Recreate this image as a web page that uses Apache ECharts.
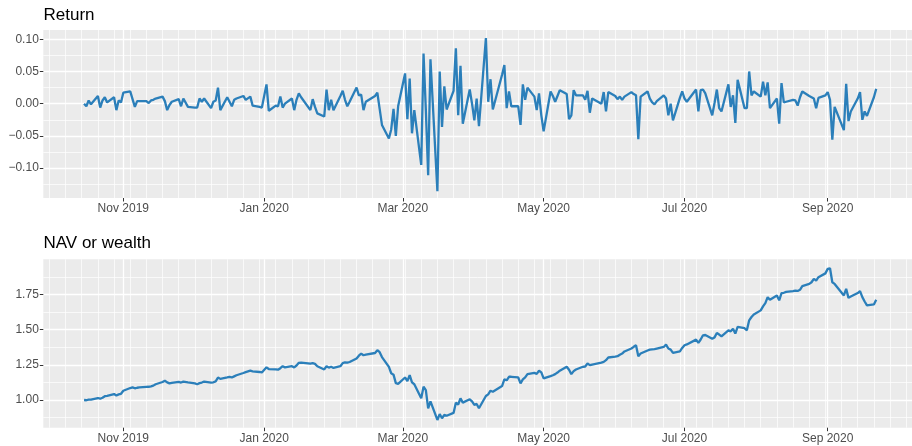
<!DOCTYPE html>
<html><head><meta charset="utf-8">
<script src="https://cdn.jsdelivr.net/npm/echarts@6/dist/echarts.min.js"></script>
<style>html,body{margin:0;padding:0;background:#fff}#c{width:912px;height:446px}</style>
</head><body><div id="c"></div>
<script>
// ---- data ----
const startDate = '2019-10-15';
const endDate = '2020-09-22';
const holidays = ['2019-11-28','2019-12-25','2020-01-01','2020-01-20','2020-02-17','2020-04-10','2020-05-25','2020-07-03','2020-09-07'];

const returns = [
  // Oct 2019
  0.000,-0.004,0.005,-0.001,0.012,-0.006,0.005,0.010,0.002,0.010,-0.010,0.005,0.002,
  // Nov
  0.017,0.019,0.007,-0.005,0.004,0.004,0.004,0.001,0.005,0.006,0.008,0.011,0.004,-0.010,-0.002,0.003,0.007,-0.004,0.008,-0.005,
  // Dec
  -0.006,-0.006,0.008,0.003,0.008,-0.007,0.003,0.005,0.025,-0.010,0.010,0.003,-0.004,0.006,0.008,0.012,0.006,0.011,-0.003,-0.005,-0.006,
  // Jan 2020
  0.030,-0.011,-0.003,-0.004,0.011,-0.006,0.000,0.008,-0.010,0.006,0.016,0.010,-0.010,0.007,-0.005,-0.015,-0.020,0.022,-0.010,0.006,-0.010,
  // Feb
  0.012,0.020,0.006,-0.004,0.003,0.025,0.013,0.014,-0.010,0.003,0.012,0.017,-0.008,-0.033,-0.054,-0.040,-0.008,-0.050,-0.004,
  // Mar
  0.047,-0.024,0.039,-0.046,-0.010,-0.095,0.078,-0.010,-0.111,0.069,-0.136,0.050,-0.036,0.027,-0.009,0.020,0.086,-0.018,0.059,-0.031,0.022,0.000,
  // Apr
  -0.026,0.008,-0.035,0.102,0.003,0.038,-0.009,0.045,0.060,-0.007,0.019,-0.004,-0.004,-0.033,0.030,0.006,0.025,0.011,-0.010,0.016,-0.018,
  // May
  -0.043,0.019,0.012,0.003,0.012,0.021,0.015,-0.024,-0.018,0.021,0.013,0.013,0.006,0.020,-0.014,0.008,0.000,0.018,-0.012,0.018,
  // Jun
  0.012,0.007,0.011,0.006,0.011,0.018,0.015,0.013,-0.055,0.011,0.019,0.008,0.002,-0.001,0.004,0.013,0.008,-0.018,0.000,-0.026,0.009,0.019,
  // Jul
  0.008,0.003,0.022,-0.012,0.021,0.022,0.016,-0.018,0.001,0.022,-0.007,-0.012,0.030,-0.005,0.013,-0.030,0.037,-0.007,-0.007,0.050,0.013,0.019,
  // Aug
  0.011,0.034,0.013,0.033,-0.007,0.008,-0.031,0.032,0.002,0.003,0.006,0.005,-0.003,0.010,0.019,0.012,0.010,0.008,-0.007,0.009,0.013,
  // Sep
  0.018,0.006,-0.056,-0.005,-0.041,0.031,-0.027,-0.012,0.008,0.018,-0.025,-0.012,-0.019,0.010,0.023
];

const nav = [
  // Oct 2019
  1.000,0.998,1.003,1.002,1.014,1.009,1.016,1.027,1.030,1.042,1.032,1.040,1.044,
  // Nov
  1.066,1.085,1.090,1.083,1.087,1.090,1.093,1.094,1.097,1.102,1.112,1.128,1.137,1.125,1.118,1.121,1.128,1.124,1.130,1.125,
  // Dec
  1.118,1.112,1.120,1.124,1.131,1.123,1.126,1.132,1.160,1.150,1.160,1.164,1.160,1.168,1.176,1.192,1.198,1.208,1.204,1.199,1.196,
  // Jan 2020
  1.232,1.220,1.218,1.215,1.226,1.240,1.232,1.240,1.232,1.245,1.264,1.266,1.258,1.262,1.257,1.240,1.217,1.240,1.230,1.236,1.228,
  // Feb
  1.240,1.262,1.268,1.265,1.270,1.295,1.315,1.330,1.318,1.322,1.334,1.354,1.340,1.305,1.235,1.190,1.180,1.120,1.115,
  // Mar
  1.160,1.134,1.177,1.125,1.112,1.012,1.094,1.070,0.940,0.990,0.858,0.900,0.870,0.894,0.888,0.908,0.981,0.968,1.012,0.981,1.005,0.990,
  // Apr
  0.965,0.972,0.941,1.028,1.040,1.066,1.059,1.099,1.146,1.140,1.165,1.165,1.160,1.118,1.146,1.160,1.184,1.193,1.186,1.208,1.196,
  // May
  1.153,1.170,1.176,1.184,1.195,1.208,1.236,1.215,1.184,1.205,1.217,1.236,1.238,1.259,1.248,1.252,1.266,1.271,1.283,1.302,
  // Jun
  1.308,1.311,1.322,1.330,1.345,1.366,1.378,1.389,1.311,1.330,1.352,1.358,1.360,1.361,1.365,1.377,1.394,1.366,1.358,1.335,1.346,1.370,
  // Jul
  1.389,1.395,1.429,1.406,1.430,1.460,1.462,1.436,1.445,1.476,1.465,1.453,1.495,1.488,1.507,1.472,1.519,1.510,1.495,1.566,1.590,1.608,
  // Aug
  1.637,1.665,1.689,1.731,1.712,1.743,1.708,1.759,1.762,1.768,1.774,1.778,1.775,1.783,1.810,1.825,1.837,1.861,1.849,1.873,1.900,
  // Sep
  1.932,1.936,1.837,1.825,1.743,1.790,1.726,1.735,1.760,1.774,1.731,1.700,1.672,1.679,1.712
];

const returnTicks = [-0.10, -0.05, 0.00, 0.05, 0.10];
const returnMinorTicks = [-0.125, -0.075, -0.025, 0.025, 0.075];
const navTicks = [1.00, 1.25, 1.50, 1.75];
const navMinorTicks = [0.875, 1.125, 1.375, 1.625, 1.875];
const dateTicks = ['2019-11-01','2020-01-01','2020-03-01','2020-05-01','2020-07-01','2020-09-01'];
const dateTickLabels = ['Nov 2019','Jan 2020','Mar 2020','May 2020','Jul 2020','Sep 2020'];
const firstMinorMonday = '2019-09-30';
const lastMinorMonday = '2020-10-05';

// ---- build ----
const DAY = 86400000;
const ts = s => Date.parse(s + 'T00:00:00Z');
const ymd = t => new Date(t).toISOString().slice(0, 10);
const dates = [];
for (let t = ts(startDate); t <= ts(endDate); t += DAY) {
  const wd = new Date(t).getUTCDay();
  if (wd === 0 || wd === 6) continue;
  if (holidays.indexOf(ymd(t)) >= 0) continue;
  dates.push(t);
}
if (dates.length !== returns.length || dates.length !== nav.length) {
  throw new Error('length mismatch dates=' + dates.length + ' ret=' + returns.length + ' nav=' + nav.length);
}
const majorX = dateTicks.map(ts);
const minorX = [];
for (let t = ts(firstMinorMonday); t <= ts(lastMinorMonday); t += 7 * DAY) minorX.push(t);

const ref = ts('2019-11-01');
const xMin = ref - 34.64 * DAY;
const xMax = ref + 341.5 * DAY;

const FONT = '"Liberation Sans", Arial, Helvetica, sans-serif';
const LINE = '#2B7FBA';
const fmtNum = v => (v < -1e-9 ? '\u2212' : '') + Math.abs(v).toFixed(2);
const fmtDate = v => { const i = majorX.indexOf(v); return i >= 0 ? dateTickLabels[i] : ''; };

function xPair(gi) {
  return [
    { gridIndex: gi, type: 'value', position: 'bottom', min: xMin, max: xMax, z: 0,
      axisLine: {show: false, onZero: false}, axisTick: {show: false, customValues: minorX},
      axisLabel: {show: false, customValues: minorX},
      splitLine: {show: true, lineStyle: {color: '#FFFFFF', width: 0.7}} },
    { gridIndex: gi, type: 'value', position: 'bottom', min: xMin, max: xMax, z: 1,
      axisLine: {show: false, onZero: false},
      axisTick: {show: true, length: 3.5, customValues: majorX, lineStyle: {color: '#333333', width: 1}},
      axisLabel: {customValues: majorX, formatter: fmtDate, color: '#4D4D4D', fontSize: 12, fontFamily: FONT, margin: 5},
      splitLine: {show: true, lineStyle: {color: '#FFFFFF', width: 1.3}} }
  ];
}
function yPair(gi, min, max, ticks, minor) {
  return [
    { gridIndex: gi, type: 'value', position: 'left', min, max, z: 0,
      axisLine: {show: false, onZero: false}, axisTick: {show: false, customValues: minor},
      axisLabel: {show: false, customValues: minor},
      splitLine: {show: true, lineStyle: {color: '#FFFFFF', width: 0.7}} },
    { gridIndex: gi, type: 'value', position: 'left', min, max, z: 1,
      axisLine: {show: false, onZero: false},
      axisTick: {show: true, length: 3.5, customValues: ticks, lineStyle: {color: '#333333', width: 1}},
      axisLabel: {customValues: ticks, formatter: fmtNum, color: '#4D4D4D', fontSize: 12, fontFamily: FONT, margin: 4.5},
      splitLine: {show: true, lineStyle: {color: '#FFFFFF', width: 1.3}} }
  ];
}

const chart = echarts.init(document.getElementById('c'), null, {renderer: 'canvas', width: 912, height: 446});
chart.setOption({
  animation: false,
  backgroundColor: '#FFFFFF',
  title: [
    {text: 'Return', left: 43.5, top: 7, padding: 0, textStyle: {fontSize: 17, fontWeight: 'normal', color: '#000', fontFamily: FONT}},
    {text: 'NAV or wealth', left: 43.5, top: 235, padding: 0, textStyle: {fontSize: 17, fontWeight: 'normal', color: '#000', fontFamily: FONT}}
  ],
  grid: [
    {left: 43.3, top: 30, width: 868.7, height: 168, show: true, backgroundColor: '#EBEBEB', borderWidth: 0, containLabel: false, outerBoundsMode: 'none'},
    {left: 43.3, top: 259.3, width: 868.7, height: 168.4, show: true, backgroundColor: '#EBEBEB', borderWidth: 0, containLabel: false, outerBoundsMode: 'none'}
  ],
  xAxis: [].concat(xPair(0), xPair(1)),
  yAxis: [].concat(yPair(0, -0.1464, 0.1144, returnTicks, returnMinorTicks), yPair(1, 0.803, 2.0, navTicks, navMinorTicks)),
  series: [
    {type: 'line', xAxisIndex: 1, yAxisIndex: 1, data: dates.map((t, i) => [t, returns[i]]),
     showSymbol: false, symbol: 'none', lineStyle: {width: 2.3, color: LINE}, itemStyle: {color: LINE}, z: 3},
    {type: 'line', xAxisIndex: 3, yAxisIndex: 3, data: dates.map((t, i) => [t, nav[i]]),
     showSymbol: false, symbol: 'none', lineStyle: {width: 2.3, color: LINE}, itemStyle: {color: LINE}, z: 3}
  ]
});
</script>
</body></html>
